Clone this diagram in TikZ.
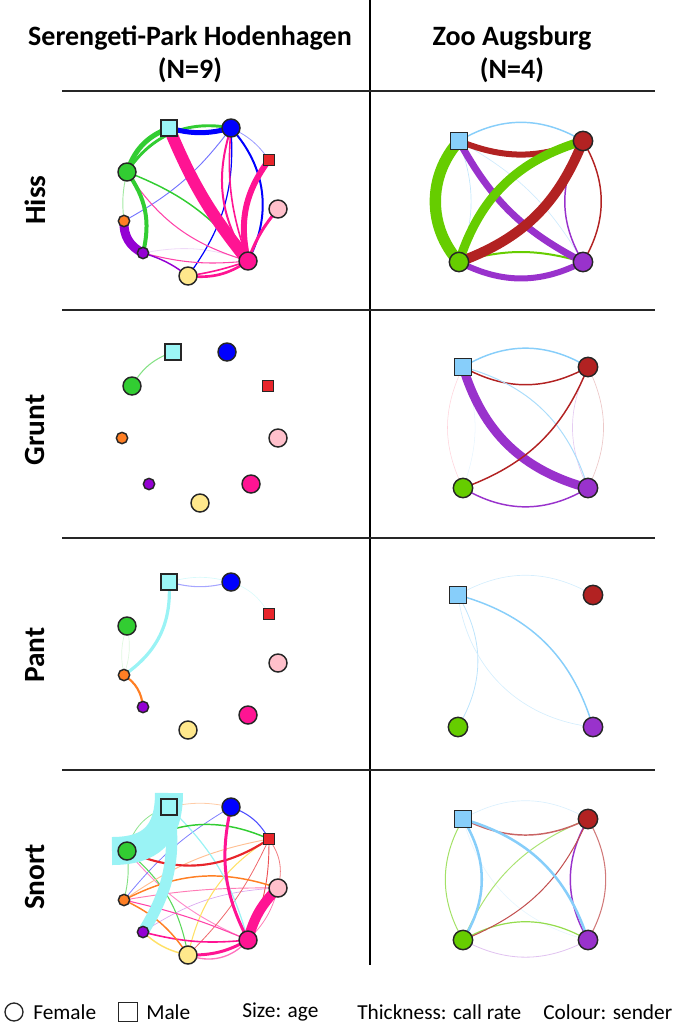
\documentclass[tikz,border=0pt]{standalone}
\usepackage{fontspec}
\setmainfont{Carlito}
\usetikzlibrary{backgrounds}
\definecolor{cyN}{HTML}{9CF7F7}
\definecolor{cyE}{HTML}{9AF3F5}
\definecolor{bluN}{HTML}{0000FF}
\definecolor{redN}{HTML}{E8252B}
\definecolor{pinkN}{HTML}{FFC0CB}
\definecolor{magN}{HTML}{FF1493}
\definecolor{yelN}{HTML}{FFE88C}
\definecolor{yelE}{HTML}{FFE066}
\definecolor{purN}{HTML}{9400D3}
\definecolor{oraN}{HTML}{FF7F24}
\definecolor{greN}{HTML}{32CD32}
\definecolor{lbN}{HTML}{87CEFA}
\definecolor{frN}{HTML}{B22222}
\definecolor{ygN}{HTML}{66CD00}
\definecolor{orN}{HTML}{9932CC}
\tikzset{
  nd/.style={draw=black!85, line width=1.1pt, inner sep=0pt, outer sep=0pt},
  sqn/.style={nd, rectangle, minimum size=#1},
  crn/.style={nd, circle, minimum size=#1},
  hdr/.style={font=\fontsize{21}{25}\selectfont\bfseries, inner sep=0pt},
  rowlab/.style={font=\fontsize{22}{26}\selectfont\bfseries, inner sep=0pt, rotate=90},
  leg/.style={font=\fontsize{16}{19}\selectfont, inner sep=0pt, anchor=west},
  rule/.style={line width=1pt, black!85},
}
\newcommand\leftnodes[2]{%
\begin{scope}[shift={(0,#2)}]
\node[sqn=12pt, fill=cyN] (#1C) at (169,128) {};
\node[crn=13.5pt, fill=bluN] (#1B) at (231,128) {};
\node[sqn=8pt, fill=redN] (#1R) at (269,160) {};
\node[crn=13.5pt, fill=pinkN] (#1K) at (278,209) {};
\node[crn=13.5pt, fill=magN] (#1M) at (248,261) {};
\node[crn=13.5pt, fill=yelN] (#1Y) at (188,276) {};
\node[crn=8.5pt, fill=purN] (#1P) at (143,253) {};
\node[crn=8.5pt, fill=oraN] (#1O) at (124,221) {};
\node[crn=13.5pt, fill=greN] (#1G) at (127,172) {};
\end{scope}}
\newcommand\rightnodes[5]{%
\node[sqn=12.5pt, fill=lbN] (#1S) at (#2,#3) {};
\node[crn=14.5pt, fill=frN] (#1R) at (#4,#3) {};
\node[crn=14.5pt, fill=ygN] (#1G) at (#2,#5) {};
\node[crn=14.5pt, fill=orN] (#1P) at (#4,#5) {};}
\begin{document}
\begin{tikzpicture}[x=0.75pt,y=-0.75pt]
\useasboundingbox (0,0) rectangle (685,1027);
% headers
\node[hdr] (t1) at (190,38) {Serengeti-Park Hodenhagen};
\node[hdr] (t2) at (190,70) {(N=9)};
\node[hdr] (t3) at (512,38) {Zoo Augsburg};
\node[hdr] (t4) at (512,70) {(N=4)};
\node[rowlab] (r1) at (35,200) {Hiss};
\node[rowlab] (r2) at (35,430) {Grunt};
\node[rowlab] (r3) at (35,655) {Pant};
\node[rowlab] (r4) at (35,877) {Snort};
% rules
\draw[line width=2.2pt] (370,0) -- (370,965);
\foreach \yy in {91,310,538,770} \draw[rule] (62,\yy) -- (655,\yy);
% left nodes
\leftnodes{hl}{0}
\leftnodes{pl}{454}
\leftnodes{sl}{679}
\node[sqn=12pt, fill=cyN] (glC) at (173,352) {};
\node[crn=13.5pt, fill=bluN] (glB) at (227,352) {};
\node[sqn=8pt, fill=redN] (glR) at (268,386) {};
\node[crn=13.5pt, fill=pinkN] (glK) at (278,438) {};
\node[crn=13.5pt, fill=magN] (glM) at (251,484) {};
\node[crn=13.5pt, fill=yelN] (glY) at (200,503) {};
\node[crn=8.5pt, fill=purN] (glP) at (149,484) {};
\node[crn=8.5pt, fill=oraN] (glO) at (122,438) {};
\node[crn=13.5pt, fill=greN] (glG) at (132,386) {};
% right nodes
\rightnodes{hr}{459}{141}{583}{262}
\rightnodes{gr}{463}{367}{588}{488}
\rightnodes{pr}{458}{595}{593}{727}
\rightnodes{sr}{463}{819}{588}{940}
\coordinate (slCa) at (169,793);
\coordinate (slGa) at (112,851);
% legend
\node[crn=13.5pt, line width=1pt, fill=white] (lf) at (14,1012) {};
\node[leg] (lft) at (33,1012) {Female};
\node[sqn=14pt, line width=1pt, fill=white] (lm) at (128,1012) {};
\node[leg] (lmt) at (146,1012) {Male};
\node[leg] (ls) at (242,1012) {Size: age};
\node[leg] (lt) at (357,1012) {Thickness: call rate};
\node[leg] (lc) at (543,1012) {Colour: sender};
\begin{scope}[on background layer]
% ---- Hiss left
\draw[purN!15, line width=0.6pt] (hlP.center) to[bend left=15] (hlM.center);
\draw[greN!45, line width=0.7pt] (hlG.center) to[bend right=10] (hlO.center);
\draw[bluN!40, line width=0.6pt] (hlB.center) to[bend left=15] (hlR.center);
\draw[bluN!55, line width=0.7pt] (hlO.center) to[bend right=12] (hlB.center);
\draw[bluN, line width=0.9pt] (hlB.center) to[bend left=20] (hlY.center);
\draw[bluN, line width=1.5pt] (hlB.center) to[bend left=35] (hlM.center);
\draw[magN!80, line width=0.8pt] (hlM.center) to[bend left=20] (hlG.center);
\draw[magN!80, line width=0.8pt] (hlM.center) to[bend left=10] (hlP.center);
\draw[purN, line width=1.1pt] (hlP.center) to[bend left=10] (hlY.center);
\draw[greN, line width=1.1pt] (hlG.center) to[bend left=15] (hlM.center);
\draw[magN, line width=2pt] (hlM.center) to[bend left=20] (hlY.center);
\draw[magN, line width=1.2pt] (hlM.center) to[bend left=5] (hlY.center);
\draw[magN, line width=1.5pt] (hlM.center) to[bend left=25] (hlB.center);
\draw[magN, line width=1.2pt] (hlM.center) to[bend left=12] (hlB.center);
\draw[magN, line width=2.25pt] (hlK.center) to[bend right=10] (hlM.center);
\draw[magN, line width=4.5pt] (hlR.center) to[bend right=25] (hlM.center);
\draw[greN, line width=2.2pt] (hlG.center) to[bend left=34] (hlB.center);
\draw[greN, line width=3.75pt] (hlG.center) to[bend left=25] (hlC.center);
\draw[greN, line width=3pt] (hlG.center) to[bend left=25] (hlP.center);
\draw[purN, line width=6.75pt] (hlO.center) to[bend right=34] (hlP.center);
\draw[bluN, line width=3.75pt] (hlC.center) to[bend right=15] (hlB.center);
\draw[magN, line width=9pt] (hlC.center) to[bend right=8] (hlM.center);
% ---- Grunt left
\draw[greN!60, line width=0.8pt] (glC.center) to[bend right=20] (glG.center);
% ---- Pant left
\draw[greN!15, line width=0.5pt] (plG.center) to[bend left=15] (plO.center);
\draw[greN!15, line width=0.5pt] (plO.center) to[bend left=15] (plG.center);
\draw[cyE!40, line width=0.5pt] (plC.center) to[bend left=15] (plB.center);
\draw[cyE!35, line width=0.5pt] (plB.center) to[bend left=20] (plR.center);
\draw[bluN!35, line width=0.8pt] (plC.center) to[bend right=15] (plB.center);
\draw[oraN, line width=1.6pt] (plO.center) to[bend left=25] (plP.center);
\draw[cyE, line width=2.4pt] (plC.center) to[bend left=30] (plO.center);
% ---- Snort left
\draw[purN!35, line width=0.5pt] (slP.center) to[bend left=15] (slK.center);
\draw[oraN!40, line width=0.6pt] (slC.center) to[bend left=12] (slB.center);
\draw[pinkN!60!magN, line width=0.6pt] (slK.center) to[bend left=15] (slM.center);
\draw[magN!50, line width=0.7pt] (slM.center) to[bend left=13] (slG.center);
\draw[pinkN!60!magN, line width=0.7pt] (slK.center) to[bend right=5] (slO.center);
\draw[redN!60, line width=0.6pt] (slR.center) to[bend left=25] (slK.center);
\draw[redN!70, line width=0.6pt] (slR.center) to[bend left=10] (slY.center);
\draw[redN!80, line width=0.7pt] (slR.center) to[bend left=12] (slM.center);
\draw[bluN!50, line width=0.6pt] (slB.center) to[bend right=10] (slO.center);
\draw[greN!55, line width=0.6pt] (slG.center) to[bend left=30] (slC.center);
\draw[greN!60, line width=0.7pt] (slG.center) to[bend left=10] (slO.center);
\draw[greN!80, line width=0.8pt] (slG.center) to[bend left=20] (slY.center);
\draw[yelE, line width=0.8pt] (slY.center) to[bend left=22] (slR.center);
\draw[yelE, line width=1.1pt] (slY.center) to[bend left=15] (slP.center);
\draw[magN, line width=1.2pt] (slM.center) to[bend left=10] (slP.center);
\draw[magN!80, line width=0.8pt] (slM.center) to[bend right=5] (slO.center);
\draw[oraN, line width=1.1pt] (slO.center) to[bend left=15] (slY.center);
\draw[oraN!50, line width=0.7pt] (slO.center) to[bend left=12] (slR.center);
\draw[oraN, line width=1.1pt] (slO.center) to[bend left=23] (slK.center);
\draw[bluN!70, line width=0.8pt] (slB.center) to[bend left=20] (slR.center);
\draw[cyE, line width=0.9pt] (slC.center) to[bend left=15] (slM.center);
\draw[greN, line width=1.1pt] (slG.center) to[bend left=29] (slR.center);
\draw[redN, line width=1.6pt] (slR.center) to[bend left=29] (slG.center);
\draw[magN!60, line width=1pt] (slM.center) to[bend left=35] (slY.center);
\draw[magN, line width=2.25pt] (slM.center) to[bend left=15] (slY.center);
\draw[magN, line width=2.25pt] (slM.center) to[bend left=20] (slB.center);
\draw[magN, line width=7.5pt] (slK.center) to[bend right=15] (slM.center);
\draw[cyE, line width=8.5pt] (slC.center) to[bend left=20] (slP.center);
\draw[cyE, line width=21pt] (slCa) .. controls (169,835) and (150,851) .. (slGa);
% ---- Hiss right
\draw[lbN!40, line width=0.5pt] (hrS.center) to[bend left=15] (hrP.center);
\draw[lbN!50, line width=0.5pt] (hrS.center) to[bend left=20] (hrG.center);
\draw[lbN, line width=1.1pt] (hrS.center) to[bend left=31] (hrR.center);
\draw[frN, line width=1.1pt] (hrR.center) to[bend left=31] (hrP.center);
\draw[orN, line width=1.1pt] (hrP.center) to[bend left=31] (hrR.center);
\draw[orN, line width=4.5pt] (hrP.center) to[bend left=27] (hrG.center);
\draw[ygN, line width=1.5pt] (hrG.center) to[bend left=16] (hrP.center);
\draw[orN, line width=5.25pt] (hrP.center) to[bend left=17] (hrS.center);
\draw[frN, line width=4.5pt] (hrR.center) to[bend left=22] (hrS.center);
\draw[frN, line width=7.5pt] (hrR.center) to[bend left=24] (hrG.center);
\draw[ygN, line width=6.75pt] (hrG.center) to[bend left=28] (hrR.center);
\draw[ygN, line width=8.5pt] (hrG.center) to[bend left=42] (hrS.center);
% ---- Grunt right
\draw[lbN!20, line width=0.4pt] (grS.center) to[bend left=20] (grG.center);
\draw[pinkN!70, line width=0.4pt] (grG.center) to[bend left=26] (grS.center);
\draw[frN!25, line width=0.5pt] (grR.center) to[bend left=26] (grP.center);
\draw[orN!25, line width=0.5pt] (grP.center) to[bend left=26] (grR.center);
\draw[lbN, line width=1.1pt] (grS.center) to[bend left=31] (grR.center);
\draw[frN, line width=1.1pt] (grR.center) to[bend left=29] (grS.center);
\draw[lbN!70, line width=0.75pt] (grS.center) to[bend left=29] (grP.center);
\draw[orN, line width=1.1pt] (grP.center) to[bend left=31] (grG.center);
\draw[orN, line width=6.75pt] (grP.center) to[bend left=29] (grS.center);
\draw[frN, line width=1.1pt] (grR.center) to[bend left=24] (grG.center);
% ---- Pant right
\draw[lbN!35, line width=0.5pt] (prS.center) to[bend left=30] (prR.center);
\draw[lbN!55, line width=0.6pt] (prS.center) to[bend left=31] (prG.center);
\draw[lbN!35, line width=0.5pt] (prS.center) to[bend right=38] (prP.center);
\draw[lbN, line width=1.1pt] (prS.center) to[bend left=29] (prP.center);
% ---- Snort right
\draw[lbN!30, line width=0.5pt] (srS.center) to[bend left=30] (srR.center);
\draw[lbN!20, line width=0.5pt] (srS.center) to[bend right=30] (srP.center);
\draw[orN!30, line width=0.6pt] (srP.center) to[bend left=28] (srG.center);
\draw[ygN!60, line width=0.75pt] (srG.center) to[bend left=30] (srS.center);
\draw[ygN!70, line width=0.9pt] (srG.center) to[bend left=30] (srP.center);
\draw[frN!60, line width=0.8pt] (srR.center) to[bend left=30] (srP.center);
\draw[orN, line width=1.1pt] (srP.center) to[bend left=30] (srR.center);
\draw[ygN!55, line width=0.75pt] (srG.center) to[bend left=22] (srR.center);
\draw[frN!80, line width=0.75pt] (srR.center) to[bend left=22] (srG.center);
\draw[frN!70, line width=1.1pt] (srR.center) to[bend left=26] (srS.center);
\draw[lbN, line width=1.9pt] (srS.center) to[bend left=32] (srG.center);
\draw[lbN, line width=1.9pt] (srS.center) to[bend left=28] (srP.center);
\end{scope}
\end{tikzpicture}
\end{document}
